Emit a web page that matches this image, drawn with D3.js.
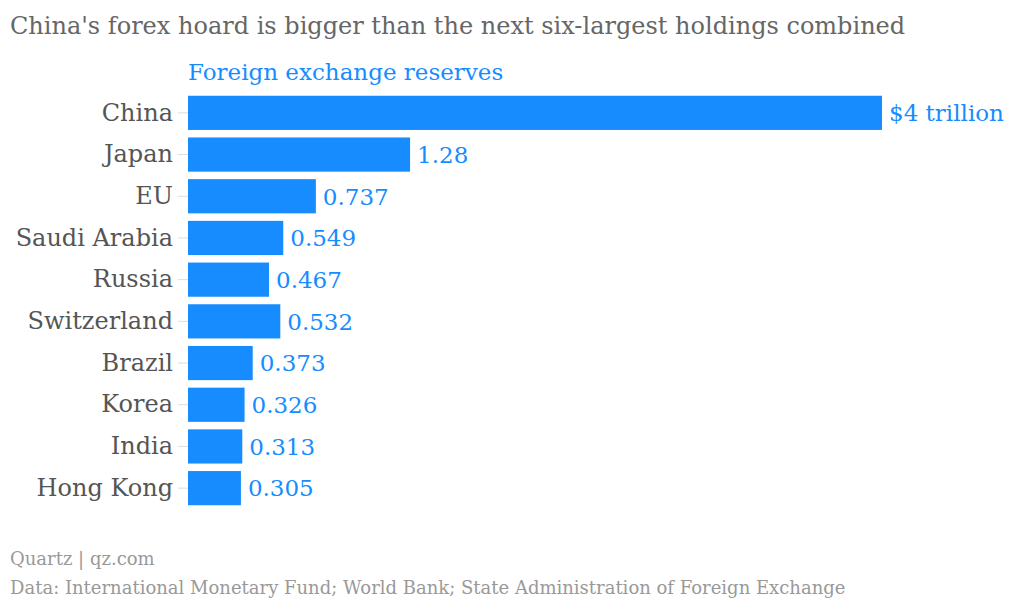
<!DOCTYPE html>
<html>
<head>
<meta charset="utf-8">
<script src="https://cdn.jsdelivr.net/npm/d3@7"></script>
<style>
  body { margin: 0; background: #fff; }
  text { font-family: "DejaVu Serif", serif; }
</style>
</head>
<body>
<div id="chart"></div>
<script>
var countries = ["China", "Japan", "EU", "Saudi Arabia", "Russia", "Switzerland", "Brazil", "Korea", "India", "Hong Kong"];
var reserves = [4, 1.28, 0.737, 0.549, 0.467, 0.532, 0.373, 0.326, 0.313, 0.305];
var valueLabels = ["$4 trillion", "1.28", "0.737", "0.549", "0.467", "0.532", "0.373", "0.326", "0.313", "0.305"];

var width = 1024;
var height = 602;
var margin = {top: 92, right: 142, bottom: 93, left: 188};
var blue = "#168cff";

var svg = d3.select("#chart")
	.append("svg")
		.attr("width", width)
		.attr("height", height);

var x = d3.scaleLinear()
	.domain([0, 4])
	.range([margin.left, width - margin.right]);

var y = d3.scaleBand()
	.domain(countries)
	.range([margin.top, height - margin.bottom])
	.paddingInner(0.18)
	.paddingOuter(0.09);

// title and subtitle
svg.append("text")
	.attr("x", 10)
	.attr("y", 34)
	.attr("fill", "#666")
	.style("font-size", "24px")
	.text("China's forex hoard is bigger than the next six-largest holdings combined");

svg.append("text")
	.attr("x", margin.left)
	.attr("y", 80)
	.attr("fill", blue)
	.style("font-size", "23px")
	.text("Foreign exchange reserves");

// category axis
var yAxis = svg.append("g")
	.attr("transform", "translate(" + margin.left + ",0)")
	.call(d3.axisLeft(y).tickSize(10).tickPadding(5));

yAxis.select(".domain").remove();
yAxis.selectAll(".tick line").attr("stroke", "#ddd");
yAxis.selectAll(".tick text")
	.attr("fill", "#555")
	.style("font-family", "DejaVu Serif, serif")
	.style("font-size", "24px");

var rows = countries.map(function (c, i) { return {name: c, value: reserves[i], label: valueLabels[i]}; });

svg.selectAll("rect.bar")
	.data(rows)
	.enter()
		.append("rect")
			.attr("class", "bar")
			.attr("x", x(0))
			.attr("y", function (d) { return y(d.name); })
			.attr("width", function (d) { return x(d.value) - x(0); })
			.attr("height", y.bandwidth())
			.attr("fill", blue);

svg.selectAll("text.val")
	.data(rows)
	.enter()
		.append("text")
			.attr("class", "val")
			.attr("x", function (d) { return x(d.value) + 7; })
			.attr("y", function (d) { return y(d.name) + y.bandwidth() / 2; })
			.attr("dy", "0.36em")
			.attr("fill", blue)
			.style("font-size", "23px")
			.text(function (d) { return d.label; });

// footer
svg.append("text")
	.attr("x", 10)
	.attr("y", 565)
	.attr("fill", "#999")
	.style("font-size", "18px")
	.text("Quartz | qz.com");

svg.append("text")
	.attr("x", 10)
	.attr("y", 594)
	.attr("fill", "#999")
	.style("font-size", "18px")
	.text("Data: International Monetary Fund; World Bank; State Administration of Foreign Exchange");
</script>
</body>
</html>
